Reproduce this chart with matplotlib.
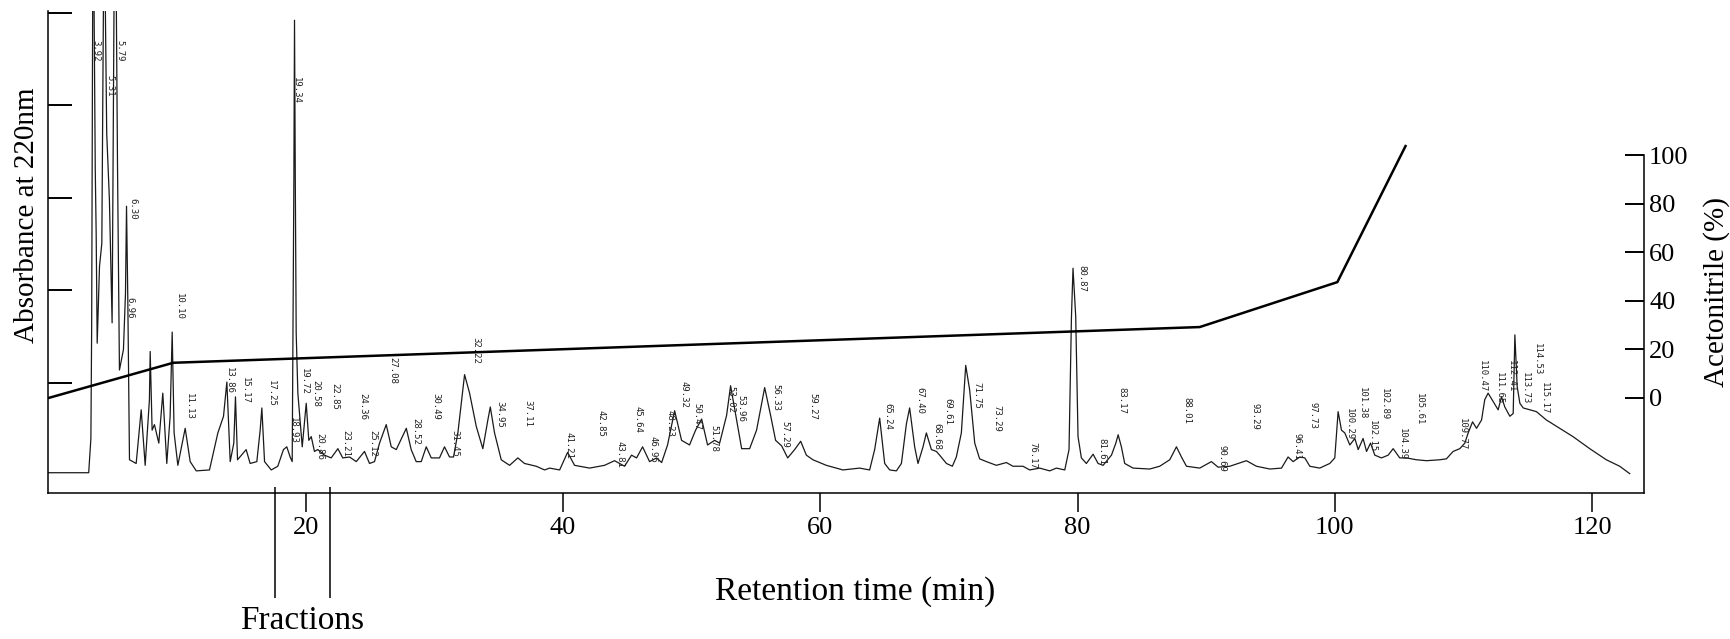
import matplotlib
matplotlib.use('Agg')
import matplotlib.pyplot as plt

plt.rcParams['font.family'] = ['Liberation Serif', 'DejaVu Serif']

# chromatogram trace: retention time (min) and absorbance (mAU)
ret_time = [
    0, 3.13, 3.30, 3.36, 3.45, 3.52, 3.64, 3.71, 3.79, 3.97, 4.15, 4.30, 4.38, 4.53, 4.74, 4.95,
    5.12, 5.25, 5.37, 5.52, 5.83, 5.99, 6.07, 6.17, 6.30, 6.82, 7.21, 7.52, 7.85, 7.91, 8.06, 8.24,
    8.58, 8.89, 9.20, 9.46, 9.62, 9.77, 10.06, 10.63, 11.02, 11.49, 12.52, 13.17, 13.61, 13.87, 14.13,
    14.41, 14.54, 14.70, 15.37, 15.68, 16.20, 16.46, 16.59, 16.80, 17.32, 17.83, 18.27, 18.53, 18.79,
    18.95, 19.08, 19.13, 19.19, 19.26, 19.39, 19.73, 20.04, 20.24, 20.43, 20.68, 20.94, 21.46, 21.98,
    22.50, 22.88, 23.41, 23.93, 24.57, 24.96, 25.35, 25.74, 26.26, 26.65, 27.04, 27.82, 28.20, 28.59,
    28.98, 29.37, 29.76, 30.40, 30.79, 31.18, 31.49, 31.83, 32.35, 32.74, 33.26, 33.77, 34.16, 34.35,
    34.68, 35.20, 35.85, 36.49, 37.01, 37.92, 38.57, 38.96, 39.74, 40.36, 40.90, 42.07, 43.23, 44.01,
    44.79, 45.33, 45.72, 46.19, 46.73, 47.28, 47.67, 48.13, 48.68, 49.22, 49.84, 50.31, 50.78, 51.24,
    51.79, 52.18, 52.72, 53.03, 53.50, 53.89, 54.51, 55.05, 55.68, 56.14, 56.53, 57.00, 57.47, 58.01,
    58.48, 58.92, 59.43, 60.47, 61.76, 63.06, 63.84, 64.23, 64.62, 65.01, 65.40, 65.92, 66.31, 66.70,
    66.95, 67.34, 67.60, 67.99, 68.25, 68.64, 69.03, 69.28, 69.81, 70.27, 70.58, 70.97, 71.31, 71.62,
    72.01, 72.39, 72.92, 73.69, 74.47, 74.98, 75.76, 76.28, 77.06, 77.84, 78.36, 79.01, 79.34, 79.53,
    79.65, 79.86, 80.04, 80.30, 80.69, 81.21, 81.60, 81.99, 82.64, 82.98, 83.16, 83.41, 83.67, 84.32,
    85.61, 86.39, 87.17, 87.69, 88.08, 88.47, 89.50, 90.41, 90.93, 91.84, 93.13, 93.91, 94.95, 95.86,
    96.37, 96.76, 97.28, 97.67, 98.06, 98.83, 99.61, 100.00, 100.26, 100.52, 100.78, 101.17, 101.56,
    101.82, 102.20, 102.47, 102.78, 103.11, 103.63, 104.15, 104.54, 105.05, 105.58, 106.35, 107.13,
    108.16, 108.68, 109.20, 109.72, 110.11, 110.37, 110.71, 111.02, 111.41, 111.66, 111.92, 112.31,
    112.70, 112.96, 113.22, 113.61, 113.87, 114.00, 114.18, 114.39, 114.65, 115.16, 115.68, 116.45,
    117.49, 118.52, 119.82, 121.11, 122.15, 122.93,
]
absorbance = [
    3, 3, 40, 160, 560, 560, 330, 262, 143, 226, 251, 560, 560, 370, 298, 165,
    560, 560, 334, 114, 136, 197, 291, 190, 17, 13, 71, 11, 82, 134, 49, 55,
    35, 89, 13, 64, 155, 46, 11, 51, 15, 5, 6, 46, 64, 101, 15,
    35, 85, 17, 28, 13, 15, 49, 73, 15, 6, 10, 28, 31, 20,
    15, 320, 492, 320, 154, 89, 31, 78, 38, 42, 26, 28, 22, 19,
    29, 19, 20, 15, 26, 13, 15, 35, 55, 31, 28, 51, 28, 15,
    15, 31, 19, 19, 31, 20, 20, 46, 109, 89, 53, 29, 60, 74,
    46, 17, 11, 19, 13, 10, 6, 8, 6, 25, 11, 8, 11, 16,
    10, 22, 19, 31, 15, 19, 14, 33, 70, 38, 33, 49, 61, 33,
    38, 35, 65, 97, 60, 29, 29, 49, 95, 65, 38, 32, 19, 28,
    37, 22, 17, 11, 6, 8, 6, 28, 62, 13, 6, 5, 13, 56,
    73, 31, 13, 31, 46, 28, 26, 22, 13, 10, 20, 46, 119, 92,
    35, 18, 15, 11, 14, 10, 10, 6, 8, 5, 8, 6, 28, 172,
    224, 172, 42, 19, 13, 23, 13, 11, 22, 35, 44, 31, 13, 8,
    7, 10, 17, 31, 20, 10, 8, 15, 9, 10, 16, 10, 7, 8,
    20, 15, 20, 19, 10, 8, 13, 19, 69, 49, 46, 33, 40,
    28, 40, 26, 35, 22, 19, 22, 29, 19, 19, 17, 16,
    17, 18, 26, 29, 35, 46, 58, 51, 60, 82, 89, 80,
    71, 85, 74, 64, 67, 152, 96, 78, 73, 71, 69, 60,
    51, 42, 29, 17, 10, 2,
]

# acetonitrile gradient (%)
grad_time = [0, 9.7, 89.5, 100.2, 105.5]
grad_acn = [0, 14.5, 29.2, 47.7, 103.7]

# integrator peak labels: text, time, top of label (mAU)
peak_text = ['3.92', '5.31', '5.79', '6.96', '6.30', '10.10', '11.13', '13.86', '15.17', '17.25',
             '18.93', '19.34', '19.72', '20.58', '20.86', '22.85', '23.21', '24.36', '25.12', '27.08',
             '28.52', '30.49', '31.45', '32.22', '34.95', '37.11', '41.21', '42.85', '43.81', '45.64',
             '46.95', '48.23', '49.32', '50.47', '51.78', '53.02', '53.96', '56.33', '57.29', '59.27',
             '65.24', '67.40', '68.68', '69.61', '71.75', '73.29', '76.17', '80.87', '81.61', '83.17',
             '88.01', '90.69', '93.29', '96.41', '97.73', '100.29', '101.38', '102.15', '102.89',
             '104.39', '105.61', '109.77', '110.47', '111.65', '112.41', '113.73', '114.53', '115.17']
peak_x = [3.71, 4.74, 5.57, 6.35, 6.56, 10.19, 10.96, 14.07, 15.32, 17.32,
          19.05, 19.26, 19.91, 20.82, 21.07, 22.24, 23.15, 24.44, 25.22, 26.77,
          28.59, 30.15, 31.57, 33.26, 35.07, 37.27, 40.44, 42.92, 44.40, 45.80,
          46.97, 48.29, 49.38, 50.39, 51.71, 53.03, 53.81, 56.53, 57.28, 59.41,
          65.24, 67.73, 69.05, 69.91, 72.16, 73.72, 76.52, 80.33, 81.88, 83.44,
          88.49, 91.21, 93.78, 97.04, 98.29, 101.17, 102.18, 102.96, 103.89,
          105.29, 106.61, 109.88, 111.44, 112.77, 113.71, 114.80, 115.74, 116.33]
peak_y = [471, 433, 471, 193, 300, 197, 89, 117, 106, 103,
          63, 431, 116, 103, 46, 100, 49, 89, 49, 128,
          62, 89, 49, 150, 80, 82, 47, 71, 37, 75,
          43, 71, 102, 78, 55, 97, 87, 99, 59, 89,
          78, 96, 57, 84, 101, 76, 36, 228, 41, 96,
          85, 33, 78, 46, 79, 73, 96, 60, 95,
          51, 89, 62, 125, 112, 125, 112, 143, 101]

fraction_times = [17.6, 21.9]

fig = plt.figure(figsize=(17.3, 6.39), dpi=100)
ax = fig.add_axes([0.028, 0.2285, 0.922, 0.7543])

ax.plot(ret_time, absorbance, color='#1a1a1a', linewidth=0.9)
for txt, px, py in zip(peak_text, peak_x, peak_y):
    ax.text(px, py, txt, rotation=270, ha='center', va='top', fontsize=6.5,
            family='DejaVu Sans Mono', color='#222222')

ax.set_xlim(0, 124)
ax.set_ylim(-18.9, 502)
ax.set_xticks([20, 40, 60, 80, 100, 120])
ax.set_yticks([100, 200, 300, 400, 500])
ax.tick_params(axis='x', direction='out', length=14, width=1.1, pad=3, labelsize=19)
ax.tick_params(axis='y', direction='in', length=17, width=1.4, labelleft=False)
ax.spines['top'].set_visible(False)
ax.spines['right'].set_visible(False)
ax.spines['left'].set_linewidth(1.1)
ax.spines['bottom'].set_linewidth(1.1)

# gradient on the right axis
ax2 = ax.twinx()
ax2.plot(grad_time, grad_acn, color='black', linewidth=1.8)
ax2.set_ylim(-39.1, 159.3)
ax2.set_yticks([0, 20, 40, 60, 80, 100])
ax2.tick_params(axis='y', direction='in', length=14, width=1.4, pad=4, labelsize=19)
for side in ['top', 'left', 'bottom']:
    ax2.spines[side].set_visible(False)
ax2.spines['right'].set_bounds(-39.1, 100)
ax2.spines['right'].set_linewidth(1.1)

# fraction collection marks below the time axis
ax.vlines(fraction_times, -0.218, 0.012, transform=ax.get_xaxis_transform(),
          colors='black', linewidth=1.1, clip_on=False)
ax.text(sum(fraction_times) / 2, -0.265, 'Fractions', transform=ax.get_xaxis_transform(),
        ha='center', va='center', fontsize=24)

ax.text(0.506, -0.205, 'Retention time (min)', transform=ax.transAxes,
        ha='center', va='center', fontsize=24)
ax.text(-0.0135, 0.577, 'Absorbance at 220nm', transform=ax.transAxes,
        ha='center', va='center', rotation=90, fontsize=21)
ax.text(1.0455, 0.417, 'Acetonitrile (%)', transform=ax.transAxes,
        ha='center', va='center', rotation=90, fontsize=21)

fig.savefig('out.png', dpi=100)
plt.close(fig)
